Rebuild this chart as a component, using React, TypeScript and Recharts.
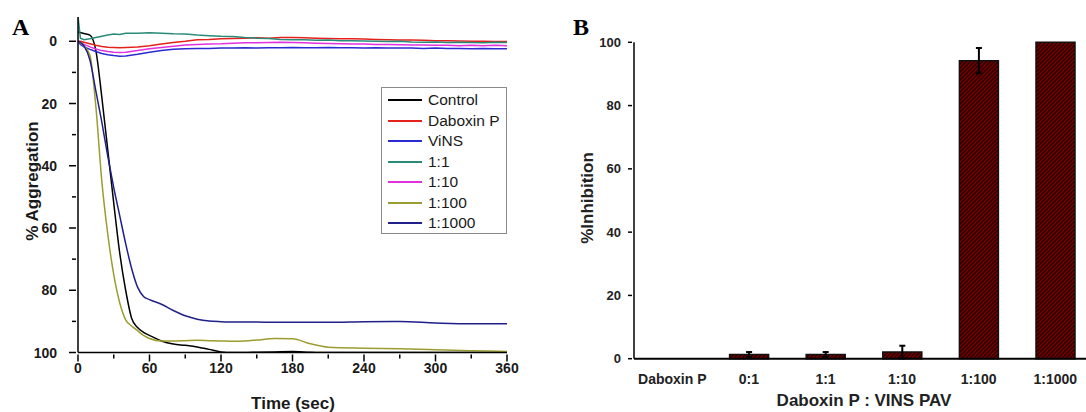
import { LineChart, Line, XAxis, YAxis, Legend, BarChart, Bar, ErrorBar } from "recharts";

const SANS = "'Liberation Sans', Arial, sans-serif";
const SERIF = "'Liberation Serif', 'Times New Roman', serif";

// ---- Panel A: aggregation traces ----
const timeTop = [0, 2, 5, 10, 15, 20, 25, 30, 35, 40, 50, 60, 70, 80, 90, 100, 110, 120, 130, 140, 150, 160, 170, 180, 190, 200, 210, 220, 230, 240, 250, 260, 270, 280, 290, 300, 310, 320, 330, 340, 350, 360];
const timeDrop = [0, 5, 10, 15, 20, 25, 30, 35, 40, 45, 50, 55, 60, 70, 80, 90, 100, 110, 120, 130, 140, 150, 165, 180, 195, 210, 240, 270, 300, 330, 360];

const control = [-3, -2.5, -2, 3, 18, 35, 52, 68, 80, 89, 92, 93.5, 94.5, 96.3, 97.3, 97.7, 98.2, 99, 99.8, 100, 100, 99.9, 99.8, 99.7, 99.9, 100, 100, 100, 100, 100, 100];
const ratio100 = [0, 1.5, 4.5, 21, 45, 62, 75, 84, 89.5, 91.5, 93, 94.5, 95.5, 96.3, 96.3, 96.2, 96.1, 96.2, 96.3, 96.4, 96.3, 96, 95.5, 95.6, 97.2, 98.3, 98.6, 98.8, 99.1, 99.4, 99.7];
const ratio1000 = [0, 1.5, 6, 16, 26, 37, 47, 56, 65, 73, 79, 82, 83, 84.5, 86.5, 88.2, 89.3, 89.9, 90.1, 90.2, 90.2, 90.2, 90.3, 90.3, 90.3, 90.3, 90.1, 90, 90.5, 90.8, 90.8];

const daboxin = [0, 0, 0.3, 0.8, 1.3, 1.7, 1.9, 2.0, 2.1, 2.0, 1.8, 1.4, 0.9, 0.4, 0, -0.5, -0.6, -0.8, -0.9, -1.0, -1.1, -1.0, -1.2, -1.2, -1.1, -1.0, -0.9, -0.8, -0.8, -0.7, -0.6, -0.5, -0.4, -0.4, -0.3, -0.2, -0.2, -0.1, 0, 0, 0.1, 0.1];
const vins = [0, 1.0, 1.8, 2.6, 3.3, 3.9, 4.3, 4.6, 4.8, 4.7, 4.2, 3.5, 3.0, 2.6, 2.4, 2.3, 2.3, 2.2, 2.2, 2.1, 2.2, 2.1, 2.1, 2.0, 2.1, 2.1, 2.0, 2.1, 2.1, 2.2, 2.1, 2.2, 2.2, 2.2, 2.3, 2.2, 2.3, 2.3, 2.4, 2.3, 2.4, 2.4];
const ratio1 = [-8, -1, -0.5, -0.8, -1.2, -1.6, -2.0, -2.3, -2.2, -2.6, -2.6, -2.7, -2.6, -2.4, -2.3, -2.0, -1.8, -1.6, -1.5, -1.2, -1.0, -0.9, -0.6, -0.5, -0.5, -0.3, -0.4, -0.2, -0.2, -0.1, 0, 0.1, 0, 0.2, 0.3, 0.2, 0.4, 0.3, 0.4, 0.5, 0.3, 0.4];
const ratio10 = [0, 0.5, 1.0, 1.8, 2.5, 3.0, 3.3, 3.5, 3.6, 3.5, 3.0, 2.4, 2.0, 1.6, 1.2, 1.0, 0.9, 0.8, 0.6, 0.5, 0.5, 0.4, 0.3, 0.4, 0.5, 0.6, 0.7, 0.8, 0.9, 0.9, 1.0, 1.0, 1.1, 1.2, 1.2, 1.3, 1.3, 1.4, 1.3, 1.4, 1.3, 1.4];

const traces = [
  { name: "Control", color: "#000000", time: timeDrop, values: control, smooth: true },
  { name: "Daboxin P", color: "#e4221b", time: timeTop, values: daboxin, smooth: false },
  { name: "ViNS", color: "#2a2ad2", time: timeTop, values: vins, smooth: false },
  { name: "1:1", color: "#2a8a7a", time: timeTop, values: ratio1, smooth: false },
  { name: "1:10", color: "#e030e0", time: timeTop, values: ratio10, smooth: false },
  { name: "1:100", color: "#9c9c30", time: timeDrop, values: ratio100, smooth: true },
  { name: "1:1000", color: "#20208a", time: timeDrop, values: ratio1000, smooth: true },
];

const xTicksA = [0, 30, 60, 90, 120, 150, 180, 210, 240, 270, 300, 330, 360];
const yTicksA = [0, 10, 20, 30, 40, 50, 60, 70, 80, 90, 100];

// ---- Panel B: inhibition bars ----
const ratios = ["Daboxin P", "0:1", "1:1", "1:10", "1:100", "1:1000"];
const inhibition = [0, 1.3, 1.3, 2.1, 94.2, 100];
const inhibitionErr = [null, 0.8, 0.8, 2, 4, null];
const yTicksB = [0, 20, 40, 60, 80, 100];

const barData = ratios.map((name, i) => ({ name, value: inhibition[i], err: inhibitionErr[i] }));

function TimeTick({ x, y, payload }: any) {
  const major = payload.value % 60 === 0;
  return (
    <g>
      <line x1={x} x2={x} y1={y} y2={y + (major ? 7 : 4)} stroke="#000" strokeWidth={1.5} />
      {major && (
        <text x={x} y={y + 18} textAnchor="middle" fontFamily={SANS} fontWeight="bold" fontSize={14} fill="#1a1a1a">
          {payload.value}
        </text>
      )}
    </g>
  );
}

function AggTick({ x, y, payload }: any) {
  const major = payload.value % 20 === 0;
  return (
    <g>
      <line x1={x - (major ? 7 : 4)} x2={x} y1={y} y2={y} stroke="#000" strokeWidth={1.5} />
      {major && (
        <text x={x - 19} y={y + 5} textAnchor="end" fontFamily={SANS} fontWeight="bold" fontSize={14} fill="#1a1a1a">
          {payload.value}
        </text>
      )}
    </g>
  );
}

function InhibTick({ x, y, payload }: any) {
  return (
    <g>
      <line x1={x - 4} x2={x} y1={y} y2={y} stroke="#000" strokeWidth={1.5} />
      <text x={x - 11} y={y + 4.5} textAnchor="end" fontFamily={SANS} fontWeight="bold" fontSize={13} fill="#222">
        {payload.value}
      </text>
    </g>
  );
}

function RatioTick({ x, y, payload }: any) {
  return (
    <text x={x} y={y + 23} textAnchor="middle" fontFamily={SANS} fontWeight="bold" fontSize={14} fill="#222">
      {payload.value}
    </text>
  );
}

function TraceLegend() {
  return (
    <div
      style={{
        width: 124,
        height: 143,
        border: "1px solid #8a8a8a",
        background: "#fff",
        paddingTop: 2,
        fontFamily: SANS,
        fontSize: 15.5,
        color: "#1a1a1a",
      }}
    >
      {traces.map((s) => (
        <div key={s.name} style={{ height: 20.5, display: "flex", alignItems: "center" }}>
          <div style={{ width: 34, height: 2, background: s.color, marginLeft: 6, marginRight: 6 }} />
          <span>{s.name}</span>
        </div>
      ))}
    </div>
  );
}

export default function App() {
  return (
    <div style={{ position: "absolute", left: 0, top: 0, width: 1086, height: 412, overflow: "hidden", background: "#fff" }}>
      <svg width={0} height={0} style={{ position: "absolute" }}>
        <defs>
          <pattern id="hatch" patternUnits="userSpaceOnUse" width="4" height="4">
            <rect width="4" height="4" fill="#700000" />
            <path d="M-1,1 l2,-2 M0,4 l4,-4 M3,5 l2,-2" stroke="#1c0000" strokeWidth="1.2" />
          </pattern>
        </defs>
      </svg>

      <div style={{ position: "absolute", left: 0, top: 0 }}>
        <LineChart width={560} height={412} margin={{ top: 17, right: 53, bottom: 29.5, left: 18 }}>
          <XAxis
            type="number"
            dataKey="t"
            domain={[0, 360]}
            ticks={xTicksA}
            interval={0}
            allowDataOverflow
            height={30}
            tickSize={0}
            tickLine={false}
            tick={<TimeTick />}
            axisLine={{ stroke: "#000", strokeWidth: 1.5 }}
          />
          <YAxis
            type="number"
            reversed
            domain={[-7.8, 100]}
            ticks={yTicksA}
            interval={0}
            allowDataOverflow
            width={60}
            tickSize={0}
            tickLine={false}
            tick={<AggTick />}
            axisLine={{ stroke: "#000", strokeWidth: 1.5 }}
          />
          <Legend
            layout="vertical"
            align="center"
            verticalAlign="middle"
            content={<TraceLegend />}
            wrapperStyle={{ left: 381, top: 87, width: 126 }}
          />
          {traces.map((s) => (
            <Line
              key={s.name}
              name={s.name}
              data={s.time.map((t, i) => ({ t, v: s.values[i] }))}
              dataKey="v"
              type={s.smooth ? "monotone" : "linear"}
              stroke={s.color}
              strokeWidth={1.5}
              dot={false}
              isAnimationActive={false}
            />
          ))}
        </LineChart>
      </div>

      <div style={{ position: "absolute", left: 560, top: 0, width: 526, height: 412, overflow: "hidden" }}>
        <BarChart width={540} height={412} data={barData} margin={{ top: 42.3, right: 6.4, bottom: 23.3, left: 14 }}>
          <XAxis
            dataKey="name"
            height={30}
            interval={0}
            tickSize={0}
            tickLine={false}
            tick={<RatioTick />}
            axisLine={{ stroke: "#000", strokeWidth: 2 }}
          />
          <YAxis
            type="number"
            domain={[0, 100]}
            ticks={yTicksB}
            interval={0}
            width={60}
            tickSize={0}
            tickLine={false}
            tick={<InhibTick />}
            axisLine={{ stroke: "#000", strokeWidth: 1.5 }}
          />
          <Bar dataKey="value" barSize={39} fill="url(#hatch)" stroke="#111" strokeWidth={1.5} isAnimationActive={false}>
            <ErrorBar dataKey="err" width={3} stroke="#000" strokeWidth={2} direction="y" />
          </Bar>
        </BarChart>
      </div>

      <svg width={1086} height={412} style={{ position: "absolute", left: 0, top: 0, pointerEvents: "none" }}>
        <text x={12} y={35} fontFamily={SERIF} fontWeight="bold" fontSize={24} fill="#000">A</text>
        <text x={573} y={35} fontFamily={SERIF} fontWeight="bold" fontSize={24} fill="#000">B</text>
        <text x={293} y={409} textAnchor="middle" fontFamily={SANS} fontWeight="bold" fontSize={17} fill="#1a1a1a">
          Time (sec)
        </text>
        <text transform="translate(38,181) rotate(-90)" textAnchor="middle" fontFamily={SANS} fontWeight="bold" fontSize={17} fill="#1a1a1a">
          % Aggregation
        </text>
        <text transform="translate(593,198) rotate(-90)" textAnchor="middle" fontFamily={SANS} fontWeight="bold" fontSize={17} fill="#222">
          %Inhibition
        </text>
        <text x={864} y={406} textAnchor="middle" fontFamily={SANS} fontWeight="bold" fontSize={17} fill="#222">
          Daboxin P : VINS PAV
        </text>
      </svg>
    </div>
  );
}
